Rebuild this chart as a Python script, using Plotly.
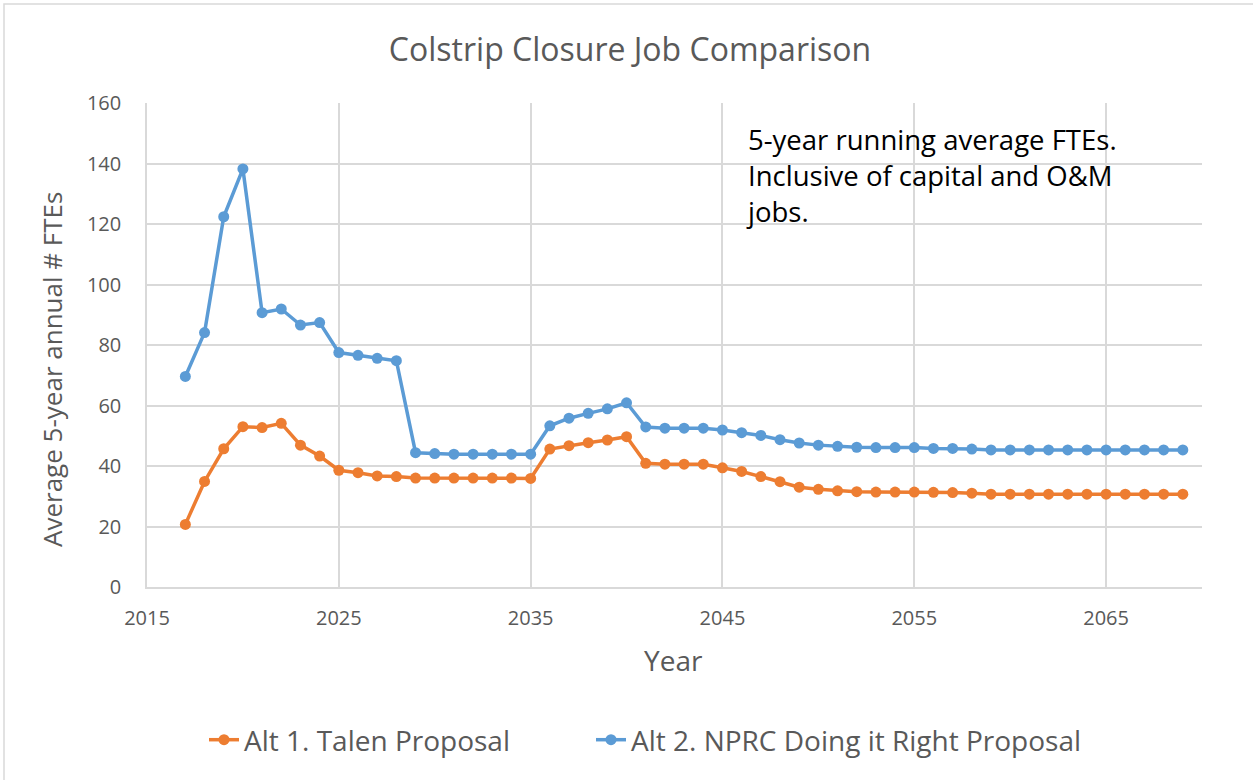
import plotly.graph_objects as go

years = list(range(2017, 2070))

alt1_talen = [20.7, 34.9, 45.7, 53.0, 52.7, 54.1, 46.9, 43.3, 38.6, 37.8,
              36.7, 36.5, 36.0, 36.0, 36.0, 36.0, 36.0, 36.0, 35.9, 45.6,
              46.7, 47.7, 48.6, 49.7, 40.9, 40.6, 40.6, 40.6, 39.4, 38.2,
              36.5, 34.8, 33.0, 32.3, 31.8, 31.5, 31.4, 31.4, 31.4, 31.3,
              31.2, 31.0, 30.7, 30.7, 30.7, 30.7, 30.7, 30.7, 30.7, 30.7,
              30.7, 30.7, 30.7]

alt2_nprc = [69.6, 84.1, 122.4, 138.2, 90.7, 91.9, 86.6, 87.4, 77.5, 76.6,
             75.6, 74.8, 44.4, 44.1, 43.9, 43.9, 43.9, 43.9, 43.9, 53.3,
             55.8, 57.4, 58.9, 60.9, 52.9, 52.5, 52.5, 52.5, 51.9, 51.0,
             50.1, 48.7, 47.6, 46.9, 46.5, 46.2, 46.1, 46.1, 46.1, 45.8,
             45.8, 45.6, 45.3, 45.3, 45.3, 45.3, 45.3, 45.3, 45.3, 45.3,
             45.3, 45.3, 45.3]

series_names = ["Alt 1. Talen Proposal", "Alt 2. NPRC Doing it Right Proposal"]
colors = ["#ED7D31", "#5B9BD5"]
legend_ids = ["legend", "legend2"]

FONT = "Open Sans, Liberation Sans, sans-serif"
GRAY = "#595959"

fig = go.Figure()
for name, vals, col, lg in zip(series_names, [alt1_talen, alt2_nprc], colors, legend_ids):
    fig.add_trace(go.Scatter(
        x=years, y=vals, name=name, mode="lines+markers",
        line=dict(color=col, width=3.5),
        marker=dict(color=col, size=11),
        legend=lg,
    ))

W, H = 1253, 780
ml, mr, mt, mb = 147, 51, 103, 193
pw, ph = W - ml - mr, H - mt - mb

legend_common = dict(orientation="h", xref="container", xanchor="left",
                     y=1 - 740 / H, yref="container", yanchor="middle",
                     font=dict(size=28, color=GRAY), bgcolor="rgba(0,0,0,0)")

fig.update_layout(
    width=W, height=H,
    margin=dict(l=ml, r=mr, t=mt, b=mb),
    paper_bgcolor="white", plot_bgcolor="white",
    font=dict(family=FONT, color=GRAY),
    title=dict(text="Colstrip Closure Job Comparison", x=630 / W, xref="container",
               xanchor="center", y=1 - 50 / H, yanchor="middle",
               font=dict(size=32, color=GRAY)),
    xaxis=dict(range=[2015, 2070], tick0=2015, dtick=10, showgrid=True,
               gridcolor="#D9D9D9", gridwidth=1.5, showline=True,
               linecolor="#D9D9D9", linewidth=1.5, zeroline=False,
               ticks="", ticklabelstandoff=12,
               tickfont=dict(size=20, color=GRAY)),
    yaxis=dict(range=[0, 160], dtick=20, showgrid=True, gridcolor="#D9D9D9",
               gridwidth=1.5, showline=True, linecolor="#D9D9D9", linewidth=1.5,
               zeroline=False, ticks="", ticklabelstandoff=20,
               tickfont=dict(size=20, color=GRAY)),
    legend=dict(x=204 / W, **legend_common),
    legend2=dict(x=591 / W, **legend_common),
    showlegend=True,
)

# axis titles
fig.add_annotation(text="Year", xref="paper", yref="paper",
                   x=(673 - ml) / pw, y=1 - (660 - mt) / ph,
                   xanchor="center", yanchor="middle", showarrow=False,
                   font=dict(size=28, color=GRAY))
fig.add_annotation(text="Average 5-year annual # FTEs", xref="paper", yref="paper",
                   x=(52 - ml) / pw, y=1 - (370 - mt) / ph, textangle=-90,
                   xanchor="center", yanchor="middle", showarrow=False,
                   font=dict(size=26, color=GRAY))

fig.add_annotation(
    text="5-year running average FTEs.<br>Inclusive of capital and O&M<br>jobs.",
    xref="paper", yref="paper", x=(744 - ml) / pw, y=1 - (119 - mt) / ph,
    xanchor="left", yanchor="top", align="left", showarrow=False,
    font=dict(size=27.5, color="#000000", family=FONT),
)

# outer chart border (only left/top visible in the crop)
fig.add_shape(type="rect", xref="paper", yref="paper",
              x0=(4 - ml) / pw, x1=(1270 - ml) / pw,
              y0=1 - (800 - mt) / ph, y1=1 - (4 - mt) / ph,
              line=dict(color="#D9D9D9", width=1.5), layer="below")

fig.write_html("out.html")
